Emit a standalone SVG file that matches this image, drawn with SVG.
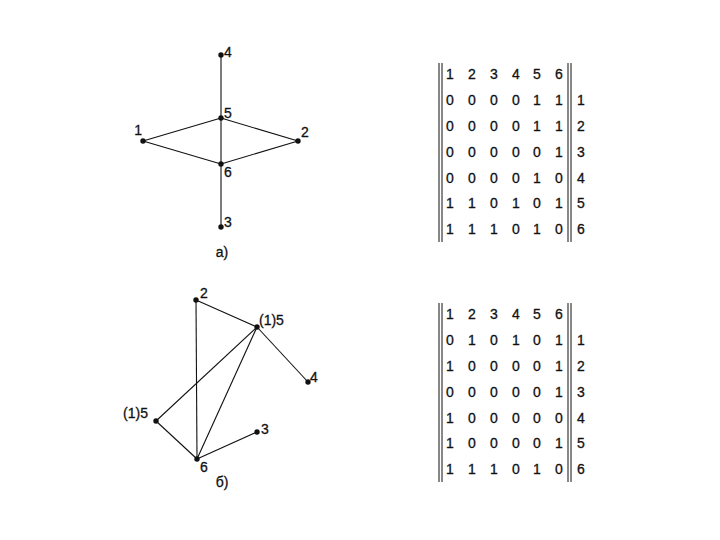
<svg xmlns="http://www.w3.org/2000/svg" width="720" height="540" viewBox="0 0 720 540">
<style>
.e{stroke:#111;stroke-width:1.1;fill:none}
.d{fill:#111}
.t{font-family:"Liberation Sans",Arial,sans-serif;font-size:14px;fill:#111;stroke:#111;stroke-width:0.3}
.m{font-family:"Liberation Sans",Arial,sans-serif;font-size:14px;fill:#111;stroke:#111;stroke-width:0.3;text-anchor:middle}
.b{stroke:#111;stroke-width:1}
</style>
<rect width="720" height="540" fill="#fff"/>
<g id="connectors">
<line class="e" x1="221" y1="55" x2="221" y2="227"/>
<line class="e" x1="143" y1="141" x2="221" y2="118"/>
<line class="e" x1="221" y1="118" x2="298" y2="141"/>
<line class="e" x1="143" y1="141" x2="221" y2="164"/>
<line class="e" x1="221" y1="164" x2="298" y2="141"/>
<line class="e" x1="196" y1="300" x2="197" y2="459"/>
<line class="e" x1="196" y1="300" x2="257" y2="327"/>
<line class="e" x1="257" y1="327" x2="308" y2="382"/>
<line class="e" x1="257" y1="327" x2="156" y2="421"/>
<line class="e" x1="257" y1="327" x2="197" y2="459"/>
<line class="e" x1="156" y1="421" x2="197" y2="459"/>
<line class="e" x1="197" y1="459" x2="257" y2="432"/>
</g>
<g id="a-n4"><circle class="d" cx="221" cy="55" r="2.7"/><text class="t" x="224" y="57">4</text></g>
<g id="a-n5"><circle class="d" cx="221" cy="118" r="2.7"/><text class="t" x="224" y="118">5</text></g>
<g id="a-n1"><circle class="d" cx="143" cy="141" r="2.7"/><text class="t" x="142" y="135" text-anchor="end">1</text></g>
<g id="a-n2"><circle class="d" cx="298" cy="141" r="2.7"/><text class="t" x="301" y="137">2</text></g>
<g id="a-n6"><circle class="d" cx="221" cy="164" r="2.7"/><text class="t" x="224" y="177">6</text></g>
<g id="a-n3"><circle class="d" cx="221" cy="227" r="2.7"/><text class="t" x="224" y="227">3</text></g>
<text class="m" x="222" y="257">а)</text>
<g id="b-n2"><circle class="d" cx="196" cy="300" r="2.7"/><text class="t" x="200" y="298">2</text></g>
<g id="b-n5a"><circle class="d" cx="257" cy="327" r="2.7"/><text class="t" x="259" y="325">(1)5</text></g>
<g id="b-n4"><circle class="d" cx="308" cy="382" r="2.7"/><text class="t" x="310" y="382">4</text></g>
<g id="b-n5b"><circle class="d" cx="156" cy="421" r="2.7"/><text class="t" x="148" y="418" text-anchor="end">(1)5</text></g>
<g id="b-n3"><circle class="d" cx="257" cy="432" r="2.7"/><text class="t" x="261" y="434">3</text></g>
<g id="b-n6"><circle class="d" cx="197" cy="459" r="2.7"/><text class="t" x="200" y="472">6</text></g>
<text class="m" x="222" y="487">б)</text>
<g id="matrix-a">
<line class="b" x1="439" y1="63" x2="439" y2="242"/>
<line class="b" x1="442" y1="63" x2="442" y2="242"/>
<line class="b" x1="568" y1="63" x2="568" y2="242"/>
<line class="b" x1="571" y1="63" x2="571" y2="242"/>
<text class="m" y="79"><tspan x="450">1</tspan><tspan x="472">2</tspan><tspan x="494">3</tspan><tspan x="516">4</tspan><tspan x="537">5</tspan><tspan x="559">6</tspan></text>
<text class="m" y="105"><tspan x="450">0</tspan><tspan x="472">0</tspan><tspan x="494">0</tspan><tspan x="516">0</tspan><tspan x="537">1</tspan><tspan x="559">1</tspan><tspan x="581">1</tspan></text>
<text class="m" y="131"><tspan x="450">0</tspan><tspan x="472">0</tspan><tspan x="494">0</tspan><tspan x="516">0</tspan><tspan x="537">1</tspan><tspan x="559">1</tspan><tspan x="581">2</tspan></text>
<text class="m" y="157"><tspan x="450">0</tspan><tspan x="472">0</tspan><tspan x="494">0</tspan><tspan x="516">0</tspan><tspan x="537">0</tspan><tspan x="559">1</tspan><tspan x="581">3</tspan></text>
<text class="m" y="183"><tspan x="450">0</tspan><tspan x="472">0</tspan><tspan x="494">0</tspan><tspan x="516">0</tspan><tspan x="537">1</tspan><tspan x="559">0</tspan><tspan x="581">4</tspan></text>
<text class="m" y="208"><tspan x="450">1</tspan><tspan x="472">1</tspan><tspan x="494">0</tspan><tspan x="516">1</tspan><tspan x="537">0</tspan><tspan x="559">1</tspan><tspan x="581">5</tspan></text>
<text class="m" y="234"><tspan x="450">1</tspan><tspan x="472">1</tspan><tspan x="494">1</tspan><tspan x="516">0</tspan><tspan x="537">1</tspan><tspan x="559">0</tspan><tspan x="581">6</tspan></text>
</g>
<g id="matrix-b">
<line class="b" x1="439" y1="303" x2="439" y2="482"/>
<line class="b" x1="442" y1="303" x2="442" y2="482"/>
<line class="b" x1="568" y1="303" x2="568" y2="482"/>
<line class="b" x1="571" y1="303" x2="571" y2="482"/>
<text class="m" y="319"><tspan x="450">1</tspan><tspan x="472">2</tspan><tspan x="494">3</tspan><tspan x="516">4</tspan><tspan x="537">5</tspan><tspan x="559">6</tspan></text>
<text class="m" y="345"><tspan x="450">0</tspan><tspan x="472">1</tspan><tspan x="494">0</tspan><tspan x="516">1</tspan><tspan x="537">0</tspan><tspan x="559">1</tspan><tspan x="581">1</tspan></text>
<text class="m" y="371"><tspan x="450">1</tspan><tspan x="472">0</tspan><tspan x="494">0</tspan><tspan x="516">0</tspan><tspan x="537">0</tspan><tspan x="559">1</tspan><tspan x="581">2</tspan></text>
<text class="m" y="397"><tspan x="450">0</tspan><tspan x="472">0</tspan><tspan x="494">0</tspan><tspan x="516">0</tspan><tspan x="537">0</tspan><tspan x="559">1</tspan><tspan x="581">3</tspan></text>
<text class="m" y="423"><tspan x="450">1</tspan><tspan x="472">0</tspan><tspan x="494">0</tspan><tspan x="516">0</tspan><tspan x="537">0</tspan><tspan x="559">0</tspan><tspan x="581">4</tspan></text>
<text class="m" y="448"><tspan x="450">1</tspan><tspan x="472">0</tspan><tspan x="494">0</tspan><tspan x="516">0</tspan><tspan x="537">0</tspan><tspan x="559">1</tspan><tspan x="581">5</tspan></text>
<text class="m" y="474"><tspan x="450">1</tspan><tspan x="472">1</tspan><tspan x="494">1</tspan><tspan x="516">0</tspan><tspan x="537">1</tspan><tspan x="559">0</tspan><tspan x="581">6</tspan></text>
</g>
</svg>
